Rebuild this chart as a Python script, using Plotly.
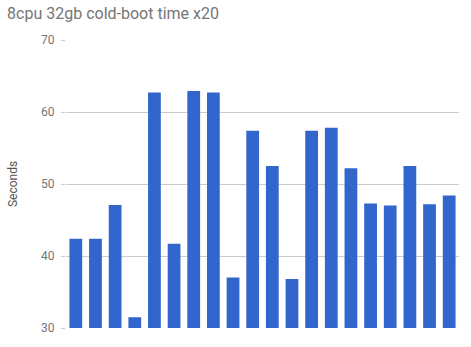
import plotly.graph_objects as go

runs = list(range(1, 21))
seconds = [42.4, 42.4, 47.1, 31.5, 62.7, 41.7, 62.9, 62.7, 37.0, 57.4,
           52.5, 36.8, 57.4, 57.8, 52.2, 47.3, 47.0, 52.5, 47.2, 48.4]
y_ticks = [30, 40, 50, 60, 70]

fig = go.Figure(go.Bar(x=runs, y=seconds, marker_color="#3366cc",
                       marker_line_width=0))
fig.update_layout(
    width=471, height=347,
    margin=dict(l=66, r=12, t=40, b=14),
    paper_bgcolor="white", plot_bgcolor="white",
    bargap=0.35,
    showlegend=False,
    font=dict(family="Roboto, Arial, sans-serif", color="#757575"),
    title=dict(text="8cpu 32gb cold-boot time x20", x=0.015, xanchor="left",
               y=0.96, yanchor="middle",
               font=dict(size=16, color="#757575")),
)
fig.update_xaxes(visible=False, range=[0.5, 20.5])
fig.update_yaxes(range=[30, 70], tickvals=y_ticks, showgrid=True,
                 gridcolor="#cccccc", zeroline=False, ticks="outside",
                 ticklen=4, tickcolor="#cccccc", ticklabelstandoff=4,
                 tickfont=dict(size=12, color="#757575"),
                 title=dict(text="Seconds", font=dict(size=12, color="#555555"),
                            standoff=20),
                 showline=False)
fig.write_html("out.html")
